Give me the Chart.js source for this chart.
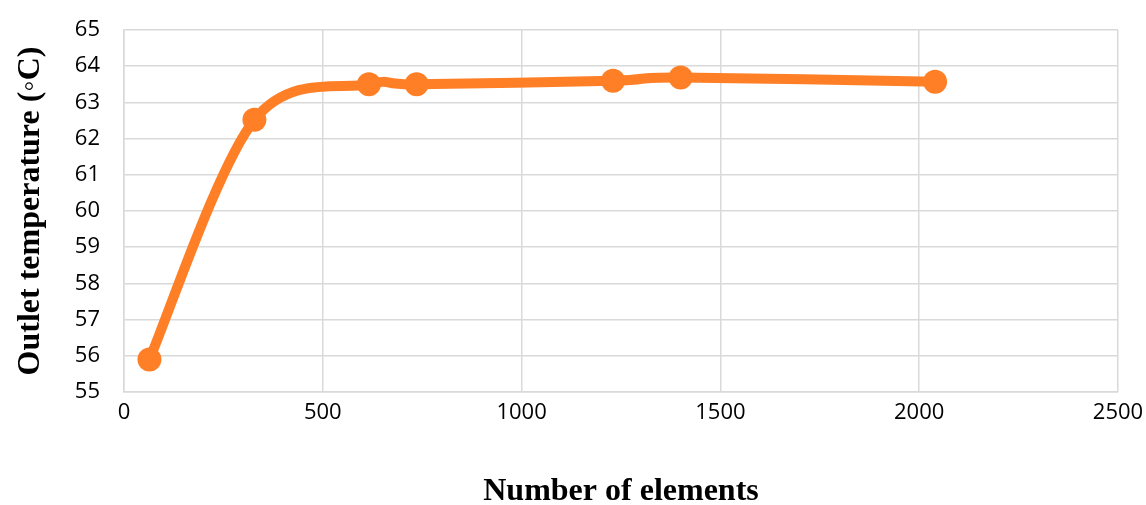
<!DOCTYPE html>
<html>
<head>
<meta charset="utf-8">
<script src="https://cdn.jsdelivr.net/npm/chart.js@4"></script>
<style>
  html, body { margin: 0; padding: 0; background: #fff; }
  #wrap { width: 1146px; height: 505px; }
</style>
</head>
<body>
<div id="wrap"><canvas id="tempChart" width="1146" height="505"></canvas></div>
<script>
const elements = [64, 328, 616, 736, 1230, 1400, 2040];
const outletTemp = [55.9, 62.52, 63.5, 63.5, 63.6, 63.69, 63.57];
const xTicks = [0, 500, 1000, 1500, 2000, 2500];
const yTicks = [55, 56, 57, 58, 59, 60, 61, 62, 63, 64, 65];

const orange = "#FF7F27";
const gridColor = "#d9d9d9";
const tickFont = { family: "'Open Sans'", size: 22 };
const titleFont = { family: "'Liberation Serif'", size: 32, weight: "bold" };

// spreadsheet-style smoothing: control points at +/- 1/6 of the neighbour span
const smoothLine = {
  id: "smoothLine",
  beforeDatasetDraw(chart, args) {
    const meta = args.meta;
    meta.dataset.updateControlPoints(chart.chartArea, "x");
    const pts = meta.data;
    pts.forEach((p, i) => {
      const prev = pts[i - 1] || p;
      const next = pts[i + 1] || p;
      const dx = (next.x - prev.x) / 6;
      const dy = (next.y - prev.y) / 6;
      p.cp1x = p.x - dx;
      p.cp1y = p.y - dy;
      p.cp2x = p.x + dx;
      p.cp2y = p.y + dy;
    });
  },
};

new Chart(document.getElementById("tempChart"), {
  type: "line",
  data: {
    datasets: [
      {
        data: elements.map((x, i) => ({ x: x, y: outletTemp[i] })),
        borderColor: orange,
        backgroundColor: orange,
        borderWidth: 10,
        pointRadius: 12,
        pointHoverRadius: 12,
        pointBorderWidth: 0,
        tension: 0.4,
      },
    ],
  },
  options: {
    responsive: false,
    animation: false,
    layout: { padding: { top: 30, right: 28, left: 0, bottom: 0 } },
    plugins: {
      legend: { display: false },
      tooltip: { enabled: false },
    },
    scales: {
      x: {
        type: "linear",
        min: 0,
        max: 2500,
        afterBuildTicks: (s) => { s.ticks = xTicks.map((v) => ({ value: v })); },
        afterFit: (s) => {
          s.height = 113;
          s.paddingLeft = 0;
          s.paddingRight = 0;
        },
        ticks: { color: "#000", font: tickFont, padding: 8, maxRotation: 0, callback: (v) => String(v) },
        grid: { color: gridColor, lineWidth: 1.5, drawTicks: false },
        border: { color: gridColor, width: 1.5 },
        title: {
          display: true,
          text: "Number of elements",
          color: "#000",
          font: titleFont,
          padding: { top: 0, bottom: -6 },
        },
      },
      y: {
        min: 55,
        max: 65,
        afterBuildTicks: (s) => { s.ticks = yTicks.map((v) => ({ value: v })); },
        afterFit: (s) => {
          s.width = 124;
          s.paddingTop = 0;
          s.paddingBottom = 0;
        },
        ticks: { color: "#000", font: tickFont, padding: 24, callback: (v) => String(v) },
        grid: { color: gridColor, lineWidth: 1.5, drawTicks: false },
        border: { color: gridColor, width: 1.5 },
        title: {
          display: true,
          text: "Outlet temperature (◦C)",
          color: "#000",
          font: titleFont,
          padding: { top: 12, bottom: 0 },
        },
      },
    },
  },
  plugins: [smoothLine],
});
</script>
</body>
</html>
